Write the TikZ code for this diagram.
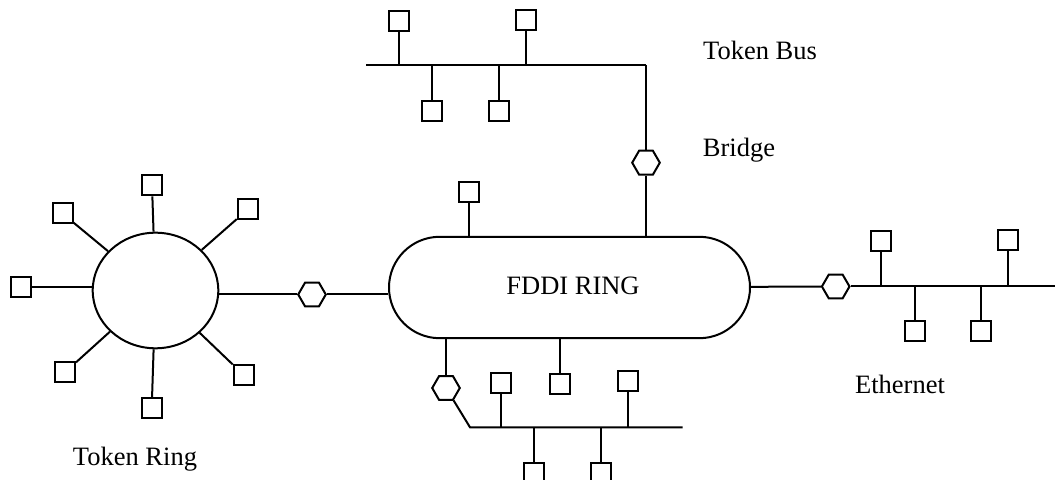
\documentclass[tikz,border=0pt]{standalone}
\usepackage{fontspec}
\setmainfont{Liberation Serif}
\usetikzlibrary{shapes.geometric,shapes.misc}
\begin{document}
\begin{tikzpicture}[x=0.5pt,y=-0.5pt,line width=1pt,
  station/.style={draw,rectangle,minimum size=10pt,inner sep=0pt},
  bridge/.style={draw,regular polygon,regular polygon sides=6,minimum size=13.8pt,inner sep=0pt},
  lbl/.style={anchor=base,inner sep=0pt,font=\fontsize{13.25}{16}\selectfont}]
\useasboundingbox (0,0) rectangle (1055,480);
% FDDI ring
\node[draw,rounded rectangle,minimum width=180.5pt,minimum height=50.7pt,inner sep=0pt] (fddi) at (569.5,287.5) {};
\node[lbl] (fddit) at (573,295) {FDDI RING};
% Token ring
\node[draw,ellipse,minimum width=62.8pt,minimum height=57.8pt,inner sep=0pt] (ring) at (155.5,290.5) {};
\node[station] (tr1) at (152,185.3) {};
\node[station] (tr2) at (62.5,213.5) {};
\node[station] (tr3) at (247.7,209.5) {};
\node[station] (tr4) at (21,286.7) {};
\node[station] (tr5) at (65,372.3) {};
\node[station] (tr6) at (151.7,408.3) {};
\node[station] (tr7) at (243.7,375) {};
\draw (tr1) -- (ring);
\draw (tr2) -- (ring);
\draw (tr3) -- (ring);
\draw (tr4.east) -- (tr4.east -| ring.west);
\draw (tr5) -- (ring);
\draw (tr6) -- (ring);
\draw (tr7) -- (ring);
\node[bridge] (hl) at (312,294.5) {};
\draw (ring.east |- hl) -- (hl);
\draw (hl) -- (hl -| fddi.west);
\node[lbl] (trt) at (135,466) {Token Ring};
% Token bus
\coordinate (tbL) at (366,65);
\coordinate (tbR) at (646,65);
\draw (tbL) -- (tbR);
\node[station] (tb1) at (398.5,21) {};
\node[station] (tb2) at (525.5,20.5) {};
\node[station] (tb3) at (431.5,111) {};
\node[station] (tb4) at (498.5,111) {};
\foreach \s in {tb1,tb2,tb3,tb4} \draw (\s) -- (\s |- tbL);
\node[bridge] (hb) at (646,162.7) {};
\draw (tbR) -- (hb);
\draw (hb) -- (hb |- fddi.north);
\node[lbl] (tbt) at (760,60) {Token Bus};
\node[lbl] (brt) at (739,156.7) {Bridge};
% station on FDDI
\node[station] (fb1) at (468.7,192) {};
\draw (fb1) -- (fb1 |- fddi.north);
\node[station] (fb2) at (559.8,384) {};
\draw (fb2) -- (fb2 |- fddi.south);
% bottom bus
\node[bridge] (hd) at (446,388) {};
\draw (hd |- fddi.south) -- (hd);
\coordinate (bL) at (470,427.3);
\coordinate (bR) at (682.7,427.3);
\draw (hd) -- (bL) -- (bR);
\node[station] (ba) at (501,383) {};
\node[station] (bb) at (628,381.5) {};
\node[station] (bc) at (534.3,472.7) {};
\node[station] (bd) at (601.2,472.7) {};
\foreach \s in {ba,bb,bc,bd} \draw (\s) -- (\s |- bL);
% Ethernet
\node[bridge] (he) at (835.7,286.5) {};
\draw (fddi) -- (he);
\coordinate (eR) at (1056,285.3);
\draw (he) -- (he -| eR);
\node[station] (e1) at (881,241.3) {};
\node[station] (e2) at (1008,240) {};
\node[station] (e3) at (914.7,330.8) {};
\node[station] (e4) at (981,330.8) {};
\foreach \s in {e1,e2,e3,e4} \draw (\s) -- (\s |- he);
\node[lbl] (eth) at (900,393.3) {Ethernet};
\end{tikzpicture}
\end{document}
